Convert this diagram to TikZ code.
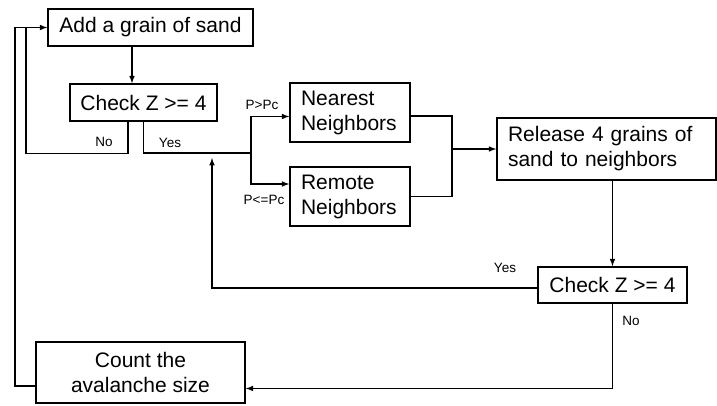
\documentclass[tikz,border=0pt]{standalone}
\usepackage{fontspec}
\setmainfont{Liberation Sans}
\usetikzlibrary{arrows,positioning,calc}

\begin{document}
\begin{tikzpicture}[x=1pt,y=-1pt,
     block/.style = {draw, rectangle, line width=1.5pt, inner sep=0pt, font=\fontsize{21}{25}\selectfont},
     lblock/.style = {block, align=left, inner xsep=11pt},
     line/.style = {draw, line width=1.5pt},
     arrow/.style = {line, -latex},
     cond/.style = {inner sep=0pt, font=\fontsize{13.5}{16}\selectfont}
    ]
    \useasboundingbox (0,0) rectangle (717,406);
    \node [block, minimum width=205pt, minimum height=37pt] (grain) at (150.5,27.5) {Add a grain of sand};
    \node [block, minimum width=147pt, minimum height=37pt] (check) at (143.5,102.5) {Check Z >= 4};
    \node [lblock, text width=98pt, minimum height=59pt] (nearest) at (350,112.5) {Nearest\\Neighbors};
    \node [lblock, text width=98pt, minimum height=59pt] (remote) at (350,196.5) {Remote\\Neighbors};
    \node [lblock, text width=197pt, minimum height=62pt] (release) at (606.5,149) {Release 4 grains of\\sand to neighbors};
    \node [block, minimum width=149pt, minimum height=36pt] (check2) at (612.5,285) {Check Z >= 4};
    \node [block, align=center, minimum width=209pt, minimum height=61pt] (count) at (140.5,372.5) {Count the\\avalanche size};

    \node [cond] (no1) at (104,142) {No};
    \node [cond] (yes1) at (170,142.5) {Yes};
    \node [cond] (pgt) at (262,105) {P>Pc};
    \node [cond] (ple) at (264,200) {P<=Pc};
    \node [cond] (yes2) at (505,268) {Yes};
    \node [cond] (no2) at (631,321) {No};

    \coordinate (back) at (26,27.5);
    \coordinate (outer) at (15,27.5);
    \coordinate (split) at (251,153);
    \coordinate (merge) at (452,149);
    \coordinate (again) at (212,158);

    \draw [arrow] ([xshift=-18.5pt]grain.south) -- ([xshift=-18.5pt]grain.south |- check.north);
    \draw [line] ([xshift=-15.5pt]check.south) -- ++(0,32) -| (back);
    \draw [arrow] ([yshift=-13.5pt]count.west) -| (outer) -- (grain.west);
    \draw [line] (check.south) |- (split);
    \draw [arrow] (split) |- ([yshift=-4pt]nearest.west);
    \draw [arrow] (split) |- ([yshift=12.5pt]remote.west);
    \draw [line] ([yshift=-3.5pt]nearest.east) -| (merge) |- (remote.east);
    \draw [arrow] (merge) -- (merge -| release.west);
    \draw [arrow] (release.south -| check2.north) -- (check2.north);
    \draw [arrow] ([yshift=-3pt]check2.west) -| (again);
    \draw [arrow] (check2.south) |- ([yshift=-16pt]count.east);
\end{tikzpicture}
\end{document}
